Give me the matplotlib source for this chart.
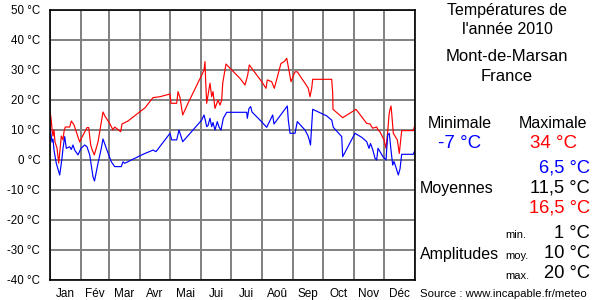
import matplotlib
matplotlib.use("Agg")
import matplotlib.pyplot as plt

plt.rcParams["font.family"] = ["Liberation Sans", "DejaVu Sans"]

# daily maximum (red) and minimum (blue) temperatures, day of year 2010
max_days = [0, 1, 2, 3, 4, 5, 7, 8.7, 10, 11.3, 13, 14, 15.3, 19.7, 21.3, 24, 29.7, 31,
            37, 38.7, 40.7, 42.3, 44.3, 48, 53, 55.3, 59.7, 63, 64.7, 70.7, 72, 78, 95,
            103, 110, 120, 121, 126.7, 128, 130, 132.7, 138, 151.7, 154, 155, 155.7,
            156.7, 158.3, 160, 161.7, 163, 165, 168, 170, 171.7, 172.7, 176, 180, 190,
            195, 197.7, 199.3, 201.7, 211.7, 216, 217.3, 221.7, 224.3, 231, 234.3,
            236.7, 237.7, 241, 245, 247.3, 251.7, 255, 258.3, 260, 261.7, 262.7, 281.7,
            282.7, 283, 292.7, 306, 316.7, 320, 322.7, 326.7, 328, 330, 334, 336, 337.7,
            339, 340, 341, 341.7, 343.3, 347.3, 349.3, 351.7, 363.3, 365]
max_temps = [16, 14, 10.5, 8, 10, 6, 4, -1, 3.3, 8, 6.7, 9.5, 11, 11, 13, 11.7, 6, 7,
             10.8, 10.8, 5, 3.3, 1.7, 6, 16, 14.4, 12.2, 10, 11, 9.4, 12, 13, 17.4,
             20.8, 21.1, 22, 18.9, 18.9, 22.8, 20.8, 15, 18.9, 28.3, 30, 32.8, 26,
             18.9, 22.2, 25.6, 21.1, 22.8, 17.2, 20, 18.3, 20, 25.6, 32, 30.6, 27.2,
             25, 28.3, 31.7, 30.6, 26.1, 23.9, 26.7, 26.1, 23.9, 32.2, 32.8,
             33.9, 32.2, 26.1, 29.4, 29.4, 27.2, 25.6, 23.9, 21.1, 23.9, 26.9, 26.9,
             22.2, 16.9, 14.1, 16.9, 12.2, 12, 10.6, 11, 10, 9.4, 6.7, 3.9, 9.4,
             15, 16.9, 18, 15.6, 8.9, 6.7, 2.2, 9.8, 9.8, 11.7]

min_days = [0, 2, 3, 4, 6.3, 9.7, 12, 13, 14.7, 16.3, 19.7, 21.3, 23, 24.7, 28, 31, 34.7,
            37, 39.7, 43, 44.5, 48, 51.3, 53, 56.3, 61.3, 64.7, 71.3, 73, 74.7, 93, 103,
            106, 115, 120, 121.7, 126.7, 129, 132.7, 151.7, 154, 155.3, 156.7, 158, 160,
            161.7, 163, 165, 167.3, 169, 171, 173.3, 176.7, 196.7, 197.3, 199, 200.7,
            202, 210, 216.7, 222.7, 224, 237.3, 238.3, 240, 245, 247.3, 255, 257.7, 259,
            260.5, 262.7, 276.7, 281.7, 283.3, 291.7, 292.7, 305, 312, 316.7, 319, 320.5,
            322.7, 325, 326.7, 328, 333, 336, 337.7, 339.3, 341, 342.7, 344, 346, 348.3,
            350, 351.7, 363.3, 365]
min_temps = [11, 6, 7, 3.3, -1.1, -5, 0.6, 3.9, 7.8, 3.9, 4.4, 3.5, 5, 3.3, 1.7, 3.9, 5,
             4.4, 1.7, -5.6, -7, -1.1, 3.9, 7, 3.9, -0.6, -2.2, -2.2, -0.6, -1.1, 1.9, 3.3,
             2.8, 6.7, 8.9, 6.7, 6.7, 10, 6.1, 13.3, 15, 13.3, 11.1, 11.5, 13.9,
             11.1, 12.5, 10, 12.8, 11, 10, 13.9, 15.9, 15.9, 13.9, 17.2, 17.8,
             16, 13.3, 10.9, 15, 12, 18, 13.3, 8.9, 8.9, 12.8, 10, 8.3, 7,
             5, 16.9, 14.7, 13.3, 10.9, 7.8, 1.1, 8.9, 7.5, 6.1, 3.9, 5.5,
             3.5, 0.6, 0, 3.9, 1.1, 0, 8.3, 8.9, 3.3, -1.7, -0.5, -2.5, -5,
             -3, 1.9, 1.9, 3.3]

month_edges = [0, 31, 59, 90, 120, 151, 181, 212, 243, 273, 304, 334, 365]
month_labels = ["Jan", "Fév", "Mar", "Avr", "Mai", "Jui", "Jui", "Aoû", "Sep", "Oct", "Nov", "Déc"]
temp_ticks = list(range(-40, 51, 10))

W, H = 600, 300
fig = plt.figure(figsize=(6, 3), dpi=100)
ax = fig.add_axes([50 / W, 20 / H, 365 / W, 270 / H])

ax.plot(max_days, max_temps, color="#ff0000", lw=0.85)
ax.plot(min_days, min_temps, color="#0000ff", lw=0.85)

ax.set_xlim(0, 365)
ax.set_ylim(-40, 50)
ax.set_xticks(month_edges)
ax.set_xticklabels([])
ax.set_xticks([(a + b) / 2 for a, b in zip(month_edges[:-1], month_edges[1:])], minor=True)
ax.set_xticklabels(month_labels, minor=True, fontsize=8.5)
ax.set_yticks(temp_ticks)
ax.set_yticklabels([f"{t} °C" for t in temp_ticks], fontsize=8.3)
ax.tick_params(which="both", length=0)
ax.tick_params(axis="x", which="minor", pad=6)
ax.tick_params(axis="y", pad=7)
ax.grid(True, which="major", color="#808080", lw=1.4)
ax.set_axisbelow(True)
for s in ax.spines.values():
    s.set_color("black")
    s.set_linewidth(1.2)
    s.set_zorder(5)


def txt(x, y, s, size, color="black", ha="center"):
    fig.text(x / W, 1 - y / H, s, fontsize=size, color=color, ha=ha, va="center")


txt(507, 10, "Températures de", 11.5)
txt(507, 30, "l'année 2010", 11.5)
txt(507, 57, "Mont-de-Marsan", 12)
txt(507, 77, "France", 12)
txt(460, 124, "Minimale", 11.5)
txt(553, 124, "Maximale", 11.5)
txt(460, 143, "-7 °C", 13.5, "#0000ff")
txt(553, 143, "34 °C", 13.5, "#ff0000")
txt(590, 168, "6,5 °C", 13.2, "#0000ff", ha="right")
txt(420, 189, "Moyennes", 11.5, ha="left")
txt(590, 188, "11,5 °C", 13.2, ha="right")
txt(590, 208, "16,5 °C", 13.2, "#ff0000", ha="right")
txt(505, 235, "min.", 8, ha="left")
txt(590, 233, "1 °C", 13.2, ha="right")
txt(420, 255, "Amplitudes", 11.5, ha="left")
txt(505, 256, "moy.", 8, ha="left")
txt(590, 254, "10 °C", 13.2, ha="right")
txt(505, 276, "max.", 8, ha="left")
txt(590, 273, "20 °C", 13.2, ha="right")
txt(420, 294, "Source : www.incapable.fr/meteo", 8.2, ha="left")

fig.savefig("out.png", dpi=100)
